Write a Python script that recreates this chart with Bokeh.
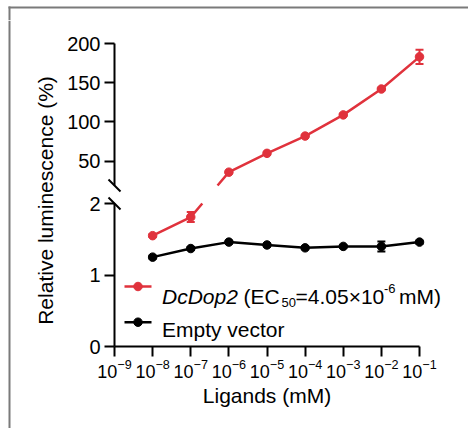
import math
from bokeh.plotting import figure
from bokeh.layouts import row, column
from bokeh.models import (FixedTicker, LogTickFormatter, Whisker, TeeHead,
                          ColumnDataSource, Range1d)
from bokeh.core.properties import value
from bokeh.embed import file_html
from bokeh.resources import INLINE

# ---------------- data ----------------
concentrations = [1e-8, 1e-7, 1e-6, 1e-5, 1e-4, 1e-3, 1e-2, 1e-1]
dcdop2_mean = [1.55, 1.81, 36, 60, 82, 109, 142, 183]
dcdop2_err = [0.02, 0.07, 1.0, 1.0, 1.0, 1.0, 1.0, 9.0]
empty_mean = [1.25, 1.37, 1.46, 1.42, 1.38, 1.40, 1.40, 1.46]
empty_err = [0.02, 0.02, 0.02, 0.02, 0.02, 0.02, 0.07, 0.02]
x_ticks = [1e-9, 1e-8, 1e-7, 1e-6, 1e-5, 1e-4, 1e-3, 1e-2, 1e-1]
y_ticks_bottom = [0, 1, 2]
y_ticks_top = [50, 100, 150, 200]
bottom_range = (0, 2.0)
top_range = (19, 200)

RED = "#E0323C"
BLACK = "#000000"
GRAY = "#7a7a7a"
FONT = "Liberation Sans"

# ---------------- layout constants (pixels) ----------------
W, H = 468, 428
STRIP_H = 20
LABEL_W = 60
AXIS_X = 114                 # page x of the y axis
PANEL_W = W - LABEL_W        # the plotting panels fill the rest of the width
TOP_MARGIN = 23              # above the 200 tick (inside the top panel)
TOP_SEG_H = 142              # pixel height of the upper axis segment
BOT_SEG_H = 143              # pixel height of the lower axis segment
GAP = 18                     # pixel gap of the axis break
EXT = 8                      # the top panel reaches this far into the gap
BOT_MARGIN = 82              # below the x axis (inside the bottom panel)
TOP_BREAK = STRIP_H + TOP_MARGIN + TOP_SEG_H               # page y, end of upper segment
BOT_BREAK = TOP_BREAK + GAP                                # page y, top of lower segment
BOT_BASE = BOT_BREAK + BOT_SEG_H                           # page y of y=0
X_AXIS_EXP = math.log10(x_ticks[0])
PX_PER_DEC = 38.125

top_ppu = TOP_SEG_H / (top_range[1] - top_range[0])
bot_ppu = BOT_SEG_H / (bottom_range[1] - bottom_range[0])


def bx(px):
    return 10 ** (X_AXIS_EXP + (px - AXIS_X) / PX_PER_DEC)


def by(py):
    return bottom_range[0] + (BOT_BASE - py) / bot_ppu


def ty(py):
    return top_range[0] + (TOP_BREAK - py) / top_ppu


def vpix(v):
    """continuous (broken-axis) pixel height above y=0"""
    if v <= bottom_range[1]:
        return (v - bottom_range[0]) * bot_ppu
    return BOT_SEG_H + GAP + (v - top_range[0]) * top_ppu


def bot_val(p):
    return bottom_range[0] + p / bot_ppu


def top_val(p):
    return top_range[0] + (p - BOT_SEG_H - GAP) / top_ppu


def split_runs(xs, pix, lo, hi):
    """pieces of the polyline (log-x, pixel-y) that lie inside [lo, hi]"""
    pts = []
    for i in range(len(xs)):
        if i > 0:
            p0, p1 = pix[i - 1], pix[i]
            for edge in (lo, hi):
                if (p0 - edge) * (p1 - edge) < 0:
                    t = (edge - p0) / (p1 - p0)
                    l0, l1 = math.log10(xs[i - 1]), math.log10(xs[i])
                    pts.append((10 ** (l0 + t * (l1 - l0)), edge))
        pts.append((xs[i], pix[i]))
    runs, cur = [], []
    for x, p in pts:
        if lo - 1e-9 <= p <= hi + 1e-9:
            cur.append((x, p))
        else:
            if len(cur) > 1:
                runs.append(cur)
            cur = []
    if len(cur) > 1:
        runs.append(cur)
    return runs


def style_axis(ax, size):
    ax.axis_line_width = 2
    ax.axis_line_color = "black"
    ax.major_tick_line_width = 2
    ax.major_tick_line_color = "black"
    ax.major_tick_out = 10
    ax.major_tick_in = 0
    ax.minor_tick_line_color = None
    ax.major_label_text_font = FONT
    ax.major_label_text_font_size = size
    ax.major_label_text_color = "black"


def deco_fig(w, h):
    f = figure(width=w, height=h, x_range=Range1d(0, w), y_range=Range1d(0, h),
               x_axis_location=None, y_axis_location=None, toolbar_location=None,
               output_backend="svg", min_border=0, outline_line_color=None,
               background_fill_color="white", border_fill_color="white")
    f.grid.visible = False
    return f


x_range_vals = (bx(LABEL_W), bx(W))

# ---------------- decoration strip (gray frame top) ----------------
strip = deco_fig(W, STRIP_H)
strip.quad(left=[8, 8], right=[W, 10], top=[STRIP_H - 6, STRIP_H - 6],
           bottom=[STRIP_H - 8, 0], fill_color=GRAY, line_color=None)

# ---------------- y label column ----------------
lab_h = H - STRIP_H
lab = deco_fig(LABEL_W, lab_h)
lab.quad(left=[8], right=[10], top=[lab_h], bottom=[0], fill_color=GRAY, line_color=None)
lab.text(x=[45], y=[H - 200], text=["Relative luminescence (%)"], angle=math.pi / 2,
         text_align="center", text_baseline="middle", text_font=value(FONT),
         text_font_size="21px", text_color="black")

# ---------------- top panel ----------------
top_h = TOP_MARGIN + TOP_SEG_H + EXT
top = figure(width=PANEL_W, height=top_h,
             x_axis_type="log", x_axis_location=None,
             x_range=Range1d(*x_range_vals),
             y_range=Range1d(top_range[0] - EXT / top_ppu,
                             top_range[1] + TOP_MARGIN / top_ppu),
             toolbar_location=None, output_backend="svg", min_border=0,
             outline_line_color=None, background_fill_color="white",
             border_fill_color="white")
top.grid.visible = False
top.yaxis.ticker = FixedTicker(ticks=y_ticks_top)
top.yaxis.fixed_location = x_ticks[0]
top.yaxis.bounds = top_range
top.yaxis.major_label_standoff = 4
style_axis(top.yaxis[0], "20px")

# ---------------- bottom panel ----------------
bot_top_pad = GAP - EXT
bot_h = bot_top_pad + BOT_SEG_H + BOT_MARGIN
bot = figure(width=PANEL_W, height=bot_h,
             x_axis_type="log",
             x_range=Range1d(*x_range_vals),
             y_range=Range1d(bottom_range[0] - BOT_MARGIN / bot_ppu,
                             bottom_range[1] + bot_top_pad / bot_ppu),
             toolbar_location=None, output_backend="svg", min_border=0,
             outline_line_color=None, background_fill_color="white",
             border_fill_color="white")
bot.grid.visible = False
bot.yaxis.ticker = FixedTicker(ticks=y_ticks_bottom)
bot.yaxis.fixed_location = x_ticks[0]
bot.yaxis.bounds = bottom_range
bot.yaxis.major_label_standoff = 4
style_axis(bot.yaxis[0], "20px")
bot.xaxis.ticker = FixedTicker(ticks=x_ticks)
bot.xaxis.formatter = LogTickFormatter()
bot.xaxis.fixed_location = bottom_range[0]
bot.xaxis.bounds = (x_ticks[0], x_ticks[-1])
bot.xaxis.axis_label = "Ligands (mM)"
bot.xaxis.axis_label_text_font = FONT
bot.xaxis.axis_label_text_font_size = "21px"
bot.xaxis.axis_label_text_font_style = "normal"
bot.xaxis.axis_label_text_color = "black"
bot.xaxis.axis_label_standoff = 3
bot.xaxis.major_label_standoff = 2
style_axis(bot.xaxis[0], "18px")

panels = {
    "bot": (bot, bot_val, 0, BOT_SEG_H, bottom_range),
    "top": (top, top_val, BOT_SEG_H + GAP, BOT_SEG_H + GAP + TOP_SEG_H, top_range),
}


# ---------------- series ----------------
def add_series(means, errs, color, names):
    pix = [vpix(v) for v in means]
    for name in names:
        fig, conv, lo, hi, rng = panels[name]
        for run in split_runs(concentrations, pix, lo, hi):
            fig.line([r[0] for r in run], [conv(r[1]) for r in run],
                     line_color=color, line_width=2.5)
        idx = [i for i, v in enumerate(means) if rng[0] <= v <= rng[1]]
        if not idx:
            continue
        src = ColumnDataSource(dict(
            x=[concentrations[i] for i in idx],
            y=[means[i] for i in idx],
            upper=[means[i] + errs[i] for i in idx],
            lower=[means[i] - errs[i] for i in idx]))
        fig.scatter("x", "y", source=src, size=8.5, fill_color=color, line_color=color)
        fig.add_layout(Whisker(source=src, base="x", upper="upper", lower="lower",
                               dimension="height", line_color=color, line_width=2,
                               upper_head=TeeHead(size=8, line_color=color, line_width=2),
                               lower_head=TeeHead(size=8, line_color=color, line_width=2)))


add_series(dcdop2_mean, dcdop2_err, RED, ["bot", "top"])
add_series(empty_mean, empty_err, BLACK, ["bot"])

# ---------------- axis break marks ----------------
top.segment(x0=[bx(AXIS_X - 6)], y0=[ty(TOP_BREAK - 6)], x1=[bx(AXIS_X + 6)],
            y1=[ty(TOP_BREAK + 6)], line_width=2, line_color="black")
bot.segment(x0=[bx(AXIS_X - 6)], y0=[by(BOT_BREAK - 6)], x1=[bx(AXIS_X + 6)],
            y1=[by(BOT_BREAK + 6)], line_width=2, line_color="black")

# ---------------- legend (drawn by hand for rich text) ----------------
for color, py in [(RED, 286), (BLACK, 321.7)]:
    bot.line([bx(124), bx(151)], [by(py), by(py)], line_color=color, line_width=2.5)
    bot.scatter([bx(137.5)], [by(py)], size=8.5, fill_color=color, line_color=color)

pieces = [
    ("DcDop2", 161.5, 296, "21px", "italic"),
    ("(EC", 243, 296, "21px", "normal"),
    ("50", 281, 301.5, "13px", "normal"),
    ("=4.05\u00d710", 295, 296, "21px", "normal"),
    ("-6", 383.5, 287.5, "13px", "normal"),
    ("mM)", 398.5, 296, "21px", "normal"),
    ("Empty vector", 161.5, 329, "21px", "normal"),
]
for txt, px, py, fs, st in pieces:
    bot.text(x=[bx(px)], y=[by(py)], text=[txt], text_align="left",
             text_baseline="alphabetic", text_font=value(FONT),
             text_font_size=fs, text_font_style=st, text_color="black")

layout = column(strip, row(lab, column(top, bot, spacing=0), spacing=0), spacing=0)

with open("out.html", "w") as fh:
    fh.write(file_html(layout, INLINE))
